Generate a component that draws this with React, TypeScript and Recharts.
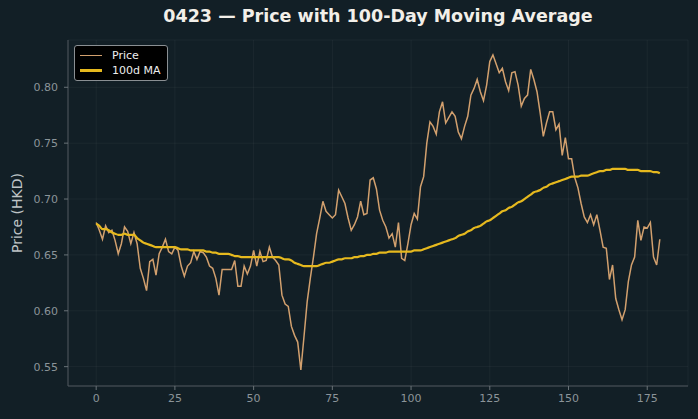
import React from 'react';
import {
  LineChart,
  Line,
  XAxis,
  YAxis,
  CartesianGrid,
} from 'recharts';

const price = [
  0.679, 0.672, 0.664, 0.676, 0.670, 0.672, 0.663, 0.651, 0.660, 0.675,
  0.671, 0.660, 0.670, 0.660, 0.638, 0.629, 0.618, 0.644, 0.646, 0.632,
  0.651, 0.657, 0.664, 0.653, 0.651, 0.657, 0.654, 0.640, 0.631, 0.640,
  0.643, 0.653, 0.646, 0.653, 0.652, 0.648, 0.640, 0.638, 0.629, 0.614,
  0.637, 0.637, 0.637, 0.637, 0.645, 0.622, 0.622, 0.640, 0.633, 0.640,
  0.654, 0.640, 0.653, 0.644, 0.645, 0.657, 0.648, 0.645, 0.641, 0.614,
  0.606, 0.604, 0.586, 0.578, 0.572, 0.547, 0.577, 0.608, 0.629, 0.648,
  0.669, 0.683, 0.698, 0.689, 0.686, 0.683, 0.686, 0.708, 0.702, 0.696,
  0.683, 0.672, 0.677, 0.684, 0.698, 0.686, 0.687, 0.717, 0.719, 0.709,
  0.690, 0.681, 0.675, 0.665, 0.669, 0.657, 0.679, 0.647, 0.645, 0.660,
  0.677, 0.687, 0.682, 0.711, 0.720, 0.750, 0.769, 0.765, 0.758, 0.778,
  0.787, 0.768, 0.773, 0.778, 0.774, 0.760, 0.754, 0.765, 0.774, 0.793,
  0.799, 0.807, 0.796, 0.788, 0.802, 0.823, 0.829, 0.821, 0.813, 0.817,
  0.805, 0.797, 0.813, 0.814, 0.802, 0.783, 0.790, 0.793, 0.816, 0.807,
  0.796, 0.777, 0.756, 0.768, 0.778, 0.778, 0.762, 0.767, 0.739, 0.755,
  0.736, 0.736, 0.719, 0.710, 0.696, 0.684, 0.679, 0.686, 0.677, 0.686,
  0.672, 0.657, 0.656, 0.628, 0.641, 0.611, 0.601, 0.592, 0.601, 0.626,
  0.641, 0.648, 0.681, 0.663, 0.675, 0.674, 0.679, 0.648, 0.641, 0.664,
];

const ma100 = [
  0.678, 0.676, 0.673, 0.673, 0.672, 0.670, 0.669, 0.668, 0.668, 0.669,
  0.668, 0.668, 0.668, 0.665, 0.663, 0.661, 0.660, 0.659, 0.658, 0.657,
  0.657, 0.657, 0.657, 0.657, 0.657, 0.657, 0.656, 0.655, 0.655, 0.655,
  0.654, 0.654, 0.654, 0.654, 0.654, 0.653, 0.653, 0.652, 0.652, 0.651,
  0.651, 0.651, 0.651, 0.650, 0.649, 0.649, 0.648, 0.648, 0.648, 0.648,
  0.648, 0.648, 0.648, 0.648, 0.648, 0.648, 0.648, 0.648, 0.648, 0.647,
  0.646, 0.646, 0.645, 0.643, 0.642, 0.641, 0.640, 0.640, 0.640, 0.640,
  0.640, 0.641, 0.642, 0.643, 0.643, 0.644, 0.645, 0.646, 0.646, 0.647,
  0.647, 0.647, 0.648, 0.648, 0.649, 0.649, 0.650, 0.650, 0.651, 0.651,
  0.652, 0.652, 0.652, 0.653, 0.653, 0.653, 0.653, 0.653, 0.653, 0.653,
  0.653, 0.654, 0.654, 0.654, 0.655, 0.656, 0.657, 0.658, 0.659, 0.660,
  0.661, 0.662, 0.663, 0.664, 0.665, 0.667, 0.668, 0.669, 0.671, 0.672,
  0.674, 0.675, 0.676, 0.678, 0.680, 0.681, 0.683, 0.685, 0.687, 0.689,
  0.690, 0.692, 0.693, 0.695, 0.697, 0.698, 0.700, 0.702, 0.704, 0.706,
  0.707, 0.708, 0.710, 0.711, 0.713, 0.714, 0.715, 0.716, 0.717, 0.718,
  0.719, 0.720, 0.720, 0.720, 0.721, 0.721, 0.721, 0.722, 0.723, 0.724,
  0.725, 0.725, 0.726, 0.726, 0.727, 0.727, 0.727, 0.727, 0.727, 0.726,
  0.726, 0.726, 0.726, 0.725, 0.725, 0.725, 0.725, 0.724, 0.724, 0.723,
];

const xTicks = [0, 25, 50, 75, 100, 125, 150, 175];
const yTicks = [0.55, 0.6, 0.65, 0.7, 0.75, 0.8];

const BG = '#121f26';
const PRICE_COLOR = '#d2a06e';
const MA_COLOR = '#e6b91e';
const FONT = '"DejaVu Sans", sans-serif';

const data = price.map((p, i) => ({ day: i, price: p, ma: ma100[i] }));

// legend drawn as an overlay so it doesn't eat chart space
function LegendBox() {
  const row = (color: string, width: number, label: string) => (
    <div style={{ display: 'flex', alignItems: 'center', height: 15 }}>
      <div style={{ width: 22, height: width, background: color, marginRight: 10 }} />
      <span>{label}</span>
    </div>
  );
  return (
    <div
      style={{
        position: 'absolute',
        left: 74,
        top: 45,
        background: '#000',
        border: '1px solid #8a8f93',
        borderRadius: 3,
        padding: '2px 6px 2px 5px',
        color: '#eee',
        fontSize: 11,
        fontFamily: FONT,
        lineHeight: '14px',
        zIndex: 2,
      }}
    >
      {row(PRICE_COLOR, 1.5, 'Price')}
      {row(MA_COLOR, 2.5, '100d MA')}
    </div>
  );
}

export default function App() {
  return (
    <div
      style={{
        position: 'fixed',
        left: 0,
        top: 0,
        width: 698,
        height: 419,
        background: BG,
        fontFamily: FONT,
      }}
    >
      <div
        style={{
          position: 'absolute',
          top: 6,
          left: 68,
          width: 620,
          textAlign: 'center',
          color: '#f2efe9',
          fontWeight: 'bold',
          fontSize: 17.5,
        }}
      >
        0423 — Price with 100-Day Moving Average
      </div>
      <div
        style={{
          position: 'absolute',
          left: 17,
          top: 213,
          transform: 'translate(-50%, -50%) rotate(-90deg)',
          color: '#bfc4c6',
          fontSize: 14,
          whiteSpace: 'nowrap',
        }}
      >
        Price (HKD)
      </div>
      <LineChart
        width={698}
        height={419}
        data={data}
        margin={{ top: 40, right: 10, bottom: 0, left: 0 }}
      >
        <CartesianGrid stroke="rgba(255,255,255,0.045)" strokeWidth={1} />
        <XAxis
          dataKey="day"
          type="number"
          domain={[-8.95, 187.95]}
          ticks={xTicks}
          allowDataOverflow
          height={33}
          stroke="#4e575c"
          tickLine={{ stroke: '#6a7378' }}
          tickSize={4}
          tickMargin={4}
          tick={{ fill: '#8b9499', fontSize: 11, fontFamily: FONT }}
        />
        <YAxis
          type="number"
          domain={[0.5327, 0.8423]}
          ticks={yTicks}
          allowDataOverflow
          width={68}
          stroke="#4e575c"
          tickLine={{ stroke: '#6a7378' }}
          tickSize={4}
          tickMargin={6}
          tickFormatter={(v: number) => v.toFixed(2)}
          tick={{ fill: '#8b9499', fontSize: 11, fontFamily: FONT }}
        />
        <Line
          type="linear"
          dataKey="price"
          name="Price"
          stroke={PRICE_COLOR}
          strokeWidth={1.5}
          dot={false}
          isAnimationActive={false}
        />
        <Line
          type="monotone"
          dataKey="ma"
          name="100d MA"
          stroke={MA_COLOR}
          strokeWidth={2.2}
          dot={false}
          isAnimationActive={false}
        />
      </LineChart>
      <LegendBox />
    </div>
  );
}
